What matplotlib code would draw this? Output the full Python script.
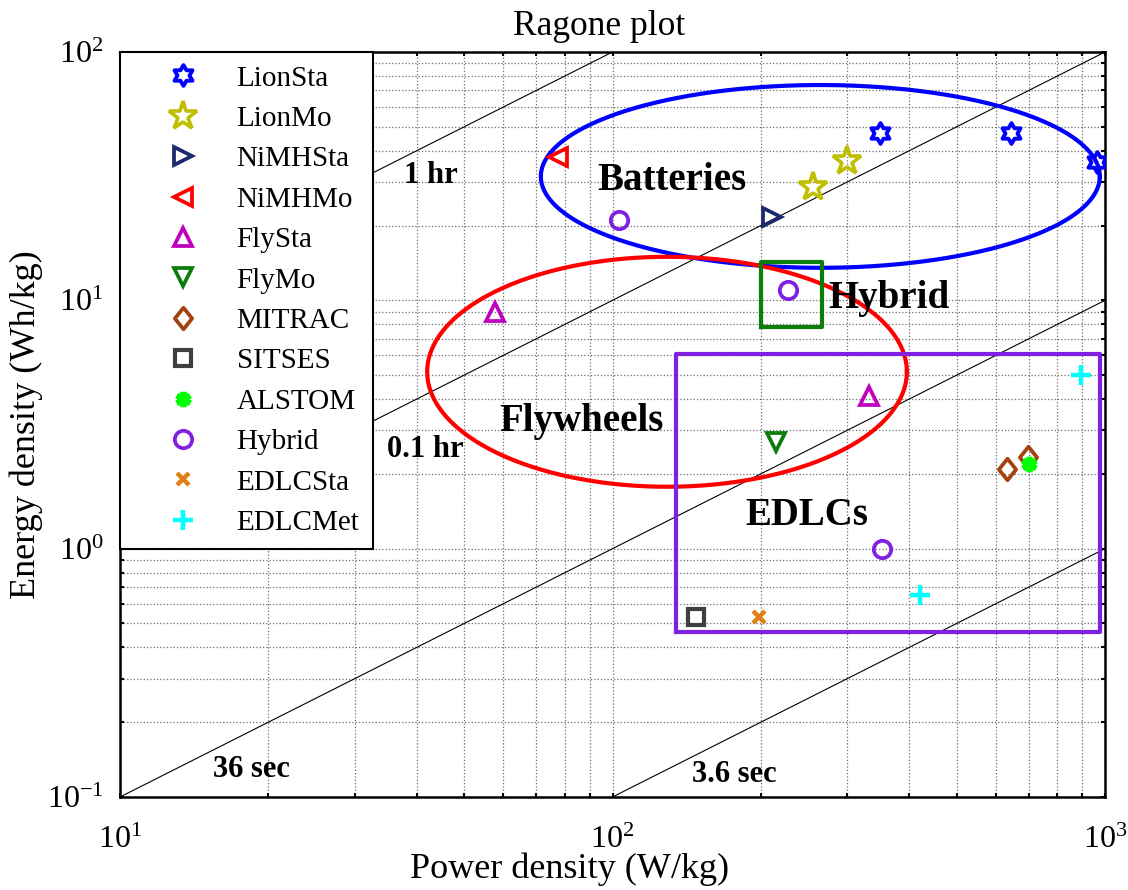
import numpy as np
import matplotlib
matplotlib.use("Agg")
import matplotlib.pyplot as plt
from matplotlib.path import Path
from matplotlib.ticker import LogLocator, FuncFormatter, NullFormatter

plt.rcParams["font.family"] = ["Liberation Serif", "DejaVu Serif"]
plt.rcParams["mathtext.fontset"] = "custom"
plt.rcParams["mathtext.rm"] = "Liberation Serif"
plt.rcParams["mathtext.it"] = "Liberation Serif:italic"
plt.rcParams["mathtext.bf"] = "Liberation Serif:bold"

# ---- data: power density (W/kg) and energy density (Wh/kg) per technology ----
series_names = ["LionSta", "LionMo", "NiMHSta", "NiMHMo", "FlySta", "FlyMo",
                "MITRAC", "SITSES", "ALSTOM", "Hybrid", "EDLCSta", "EDLCMet"]

lionsta_p = [350, 645, 965]
lionsta_e = [47, 47, 36]
lionmo_p = [255, 300]
lionmo_e = [28.6, 36.4]
nimhsta_p = [211]
nimhsta_e = [21.7]
nimhmo_p = [77.6]
nimhmo_e = [37.6]
flysta_p = [57.7, 332]
flysta_e = [9.0, 4.1]
flymo_p = [215]
flymo_e = [2.7]
mitrac_p = [632, 697]
mitrac_e = [2.1, 2.35]
sitses_p = [148]
sitses_e = [0.53]
alstom_p = [700]
alstom_e = [2.2]
hybrid_p = [103, 227, 352]
hybrid_e = [21.1, 11.0, 1.0]
edlcsta_p = [198]
edlcsta_e = [0.53]
edlcmet_p = [893, 421]
edlcmet_e = [5.0, 0.65]

# discharge-time guide lines (hours): E = P * t
guide_hours = [1.0, 0.1, 0.01, 0.001]
guide_labels = ["1 hr", "0.1 hr", "36 sec", "3.6 sec"]

# ---- marker shapes ----
k = np.arange(12)
ang = np.deg2rad(90 + 30 * k)
rad = np.where(k % 2 == 0, 1.0, 1 / np.sqrt(3))
hv = np.column_stack([rad * np.cos(ang), rad * np.sin(ang)])
hexagram = Path(np.vstack([hv, hv[:1]]), closed=True)
diamond = Path([(0, 1), (0.8, 0), (0, -1), (-0.8, 0), (0, 1)], closed=True)

styles = {
    "LionSta": dict(marker=hexagram, color="#0000ff", ms=15, mew=2.8, mfc="none"),
    "LionMo": dict(marker="*", color="#bfbf00", ms=21, mew=2.6, mfc="none"),
    "NiMHSta": dict(marker=">", color="#1a2b6d", ms=13.5, mew=2.7, mfc="none"),
    "NiMHMo": dict(marker="<", color="#ff0000", ms=13.5, mew=2.7, mfc="none"),
    "FlySta": dict(marker="^", color="#bf00bf", ms=13.5, mew=2.7, mfc="none"),
    "FlyMo": dict(marker="v", color="#0a7d0a", ms=13.5, mew=2.7, mfc="none"),
    "MITRAC": dict(marker=diamond, color="#a3420e", ms=15.5, mew=2.7, mfc="none"),
    "SITSES": dict(marker="s", color="#404040", ms=12, mew=3.0, mfc="none"),
    "ALSTOM": dict(marker=(6, 2, 0), color="#00ff00", ms=11, mew=4.2),
    "Hybrid": dict(marker="o", color="#8020e0", ms=12.5, mew=2.7, mfc="none"),
    "EDLCSta": dict(marker="x", color="#e08010", ms=8, mew=3.2),
    "EDLCMet": dict(marker="+", color="#00ffff", ms=14, mew=3.2),
}

series_data = {
    "LionSta": (lionsta_p, lionsta_e),
    "LionMo": (lionmo_p, lionmo_e),
    "NiMHSta": (nimhsta_p, nimhsta_e),
    "NiMHMo": (nimhmo_p, nimhmo_e),
    "FlySta": (flysta_p, flysta_e),
    "FlyMo": (flymo_p, flymo_e),
    "MITRAC": (mitrac_p, mitrac_e),
    "SITSES": (sitses_p, sitses_e),
    "ALSTOM": (alstom_p, alstom_e),
    "Hybrid": (hybrid_p, hybrid_e),
    "EDLCSta": (edlcsta_p, edlcsta_e),
    "EDLCMet": (edlcmet_p, edlcmet_e),
}

fig = plt.figure(figsize=(11.28, 8.90), dpi=100)
ax = fig.add_axes([120 / 1128, 1 - 797 / 890, 985 / 1128, 745 / 890])
ax.set_xscale("log")
ax.set_yscale("log")
ax.set_xlim(10, 1000)
ax.set_ylim(0.1, 100)

# guide lines
p_line = np.logspace(1, 3, 200)
for h in guide_hours:
    ax.plot(p_line, p_line * h, color="black", lw=0.8, zorder=2)

guide_text_pos = [(42.8, 31.7), (41.6, 2.5), (18.5, 0.129), (177, 0.123)]
for (px, ey), lab in zip(guide_text_pos, guide_labels):
    ax.text(px, ey, lab, fontsize=22, fontweight="bold", ha="center", va="center", zorder=6)


def log_ellipse(cx, cy, a, b, color):
    t = np.linspace(0, 2 * np.pi, 400)
    ax.plot(10 ** (cx + a * np.cos(t)), 10 ** (cy + b * np.sin(t)), color=color, lw=3.0, zorder=3)


def log_rect(p0, p1, e0, e1, color):
    ax.plot([p0, p1, p1, p0, p0], [e0, e0, e1, e1, e0], color=color, lw=3.0, zorder=3)


# technology regions
log_ellipse(2.422, 1.499, 0.5675, 0.368, "#0000ff")   # batteries
log_ellipse(2.1107, 0.7123, 0.487, 0.463, "#ff0000")  # flywheels
log_rect(200, 266, 7.8, 14.3, "#0a7d0a")              # hybrid
log_rect(134.6, 977, 0.463, 6.09, "#8020e0")          # EDLCs

region_text = [("Batteries", 132, 30.5), ("Hybrid", 364, 10.2),
               ("Flywheels", 86.7, 3.24), ("EDLCs", 248, 1.36)]
for lab, px, ey in region_text:
    ax.text(px, ey, lab, fontsize=28, fontweight="bold", ha="center", va="center", zorder=6)

# data series
for name in series_names:
    p, e = series_data[name]
    st = dict(styles[name])
    ax.plot(p, e, linestyle="none", label=name, zorder=5,
            marker=st["marker"], color=st["color"], markersize=st["ms"],
            markeredgewidth=st["mew"], markerfacecolor=st.get("mfc", st["color"]))

# axes styling
ax.xaxis.set_major_locator(LogLocator(base=10, numticks=10))
ax.yaxis.set_major_locator(LogLocator(base=10, numticks=10))
ax.xaxis.set_minor_locator(LogLocator(base=10, subs=np.arange(2, 10), numticks=100))
ax.yaxis.set_minor_locator(LogLocator(base=10, subs=np.arange(2, 10), numticks=100))
fmt = FuncFormatter(lambda v, pos: r"$10^{%d}$" % int(round(np.log10(v))))
ax.xaxis.set_major_formatter(fmt)
ax.yaxis.set_major_formatter(fmt)
ax.xaxis.set_minor_formatter(NullFormatter())
ax.yaxis.set_minor_formatter(NullFormatter())
ax.tick_params(which="both", direction="in", top=True, right=True, length=3, width=1.5,
               labelsize=23)
ax.tick_params(axis="x", pad=21)
ax.tick_params(axis="y", pad=12)
ax.grid(True, which="both", color="#6e6e6e", linestyle=":", lw=0.9, zorder=0)
for sp in ax.spines.values():
    sp.set_linewidth(1.8)

ax.set_title("Ragone plot", fontsize=25.5, pad=12, x=0.486)
ax.set_xlabel("Power density (W/kg)", fontsize=26)
ax.xaxis.set_label_coords(0.456, -0.097, transform=ax.transAxes)
ax.xaxis.label.set_va("center")
ax.set_ylabel("Energy density (Wh/kg)", fontsize=26)
ax.yaxis.set_label_coords(-0.0955, 0.5, transform=ax.transAxes)
ax.yaxis.label.set_va("center")

leg = ax.legend(loc="upper left", bbox_to_anchor=(0, 1), borderaxespad=0, fontsize=21,
                numpoints=1, frameon=True, fancybox=False, framealpha=1,
                edgecolor="black", labelspacing=0.48, borderpad=0.45,
                handlelength=3.4, handletextpad=0.15)
leg.get_frame().set_linewidth(1.5)
leg.set_zorder(10)

fig.savefig("out.png", dpi=100)
